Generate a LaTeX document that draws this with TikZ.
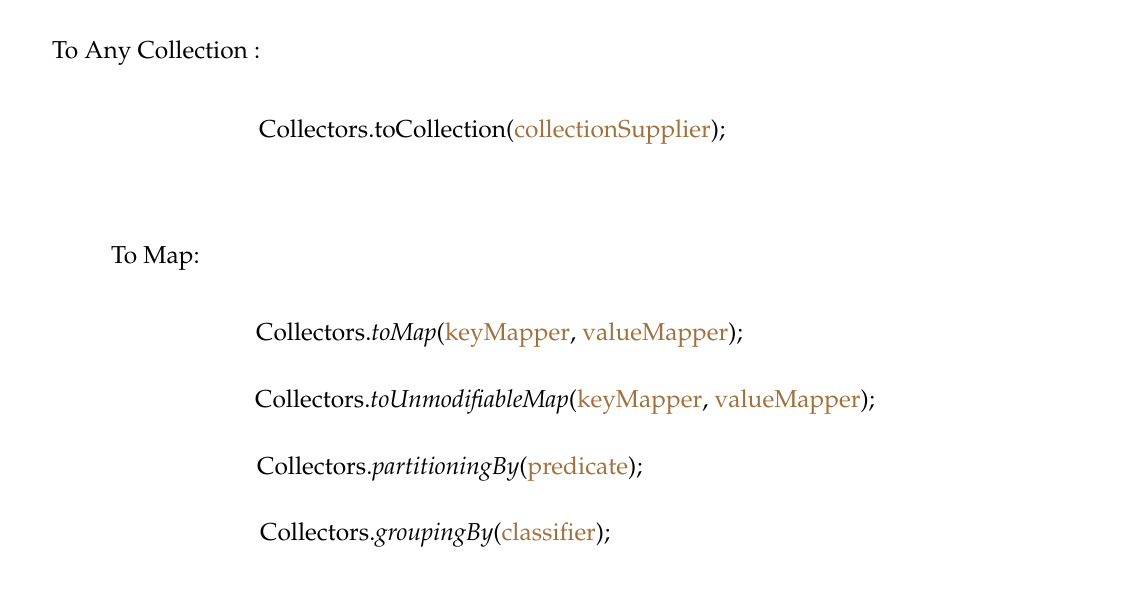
\documentclass[tikz,border=0pt]{standalone}
\usepackage[T1]{fontenc}
\usepackage{mathpazo}
\definecolor{argc}{HTML}{A0703F}
\newcommand{\ar}[1]{\textcolor{argc}{#1}}
\begin{document}
\begin{tikzpicture}[x=1pt,y=-1pt,txt/.style={anchor=base west,inner sep=0pt,font=\fontsize{24.5}{29}\selectfont}]
\useasboundingbox (0,0) rectangle (1137,605);
\node[txt] (h1) at (52,58) {To Any Collection :};
\node[txt] (l1) at (259,137) {Collectors.toCollection(\ar{collectionSupplier});};
\node[txt] (h2) at (111,263) {To Map:};
\node[txt] (l2) at (256,340) {Collectors.\textit{toMap}(\ar{keyMapper}, \ar{valueMapper});};
\node[txt] (l3) at (255,407) {Collectors.\textit{toUnmodifiableMap}(\ar{keyMapper}, \ar{valueMapper});};
\node[txt] (l4) at (257,474) {Collectors.\textit{partitioningBy}(\ar{predicate});};
\node[txt] (l5) at (260,540) {Collectors.\textit{groupingBy}(\ar{classifier});};
\end{tikzpicture}
\end{document}
